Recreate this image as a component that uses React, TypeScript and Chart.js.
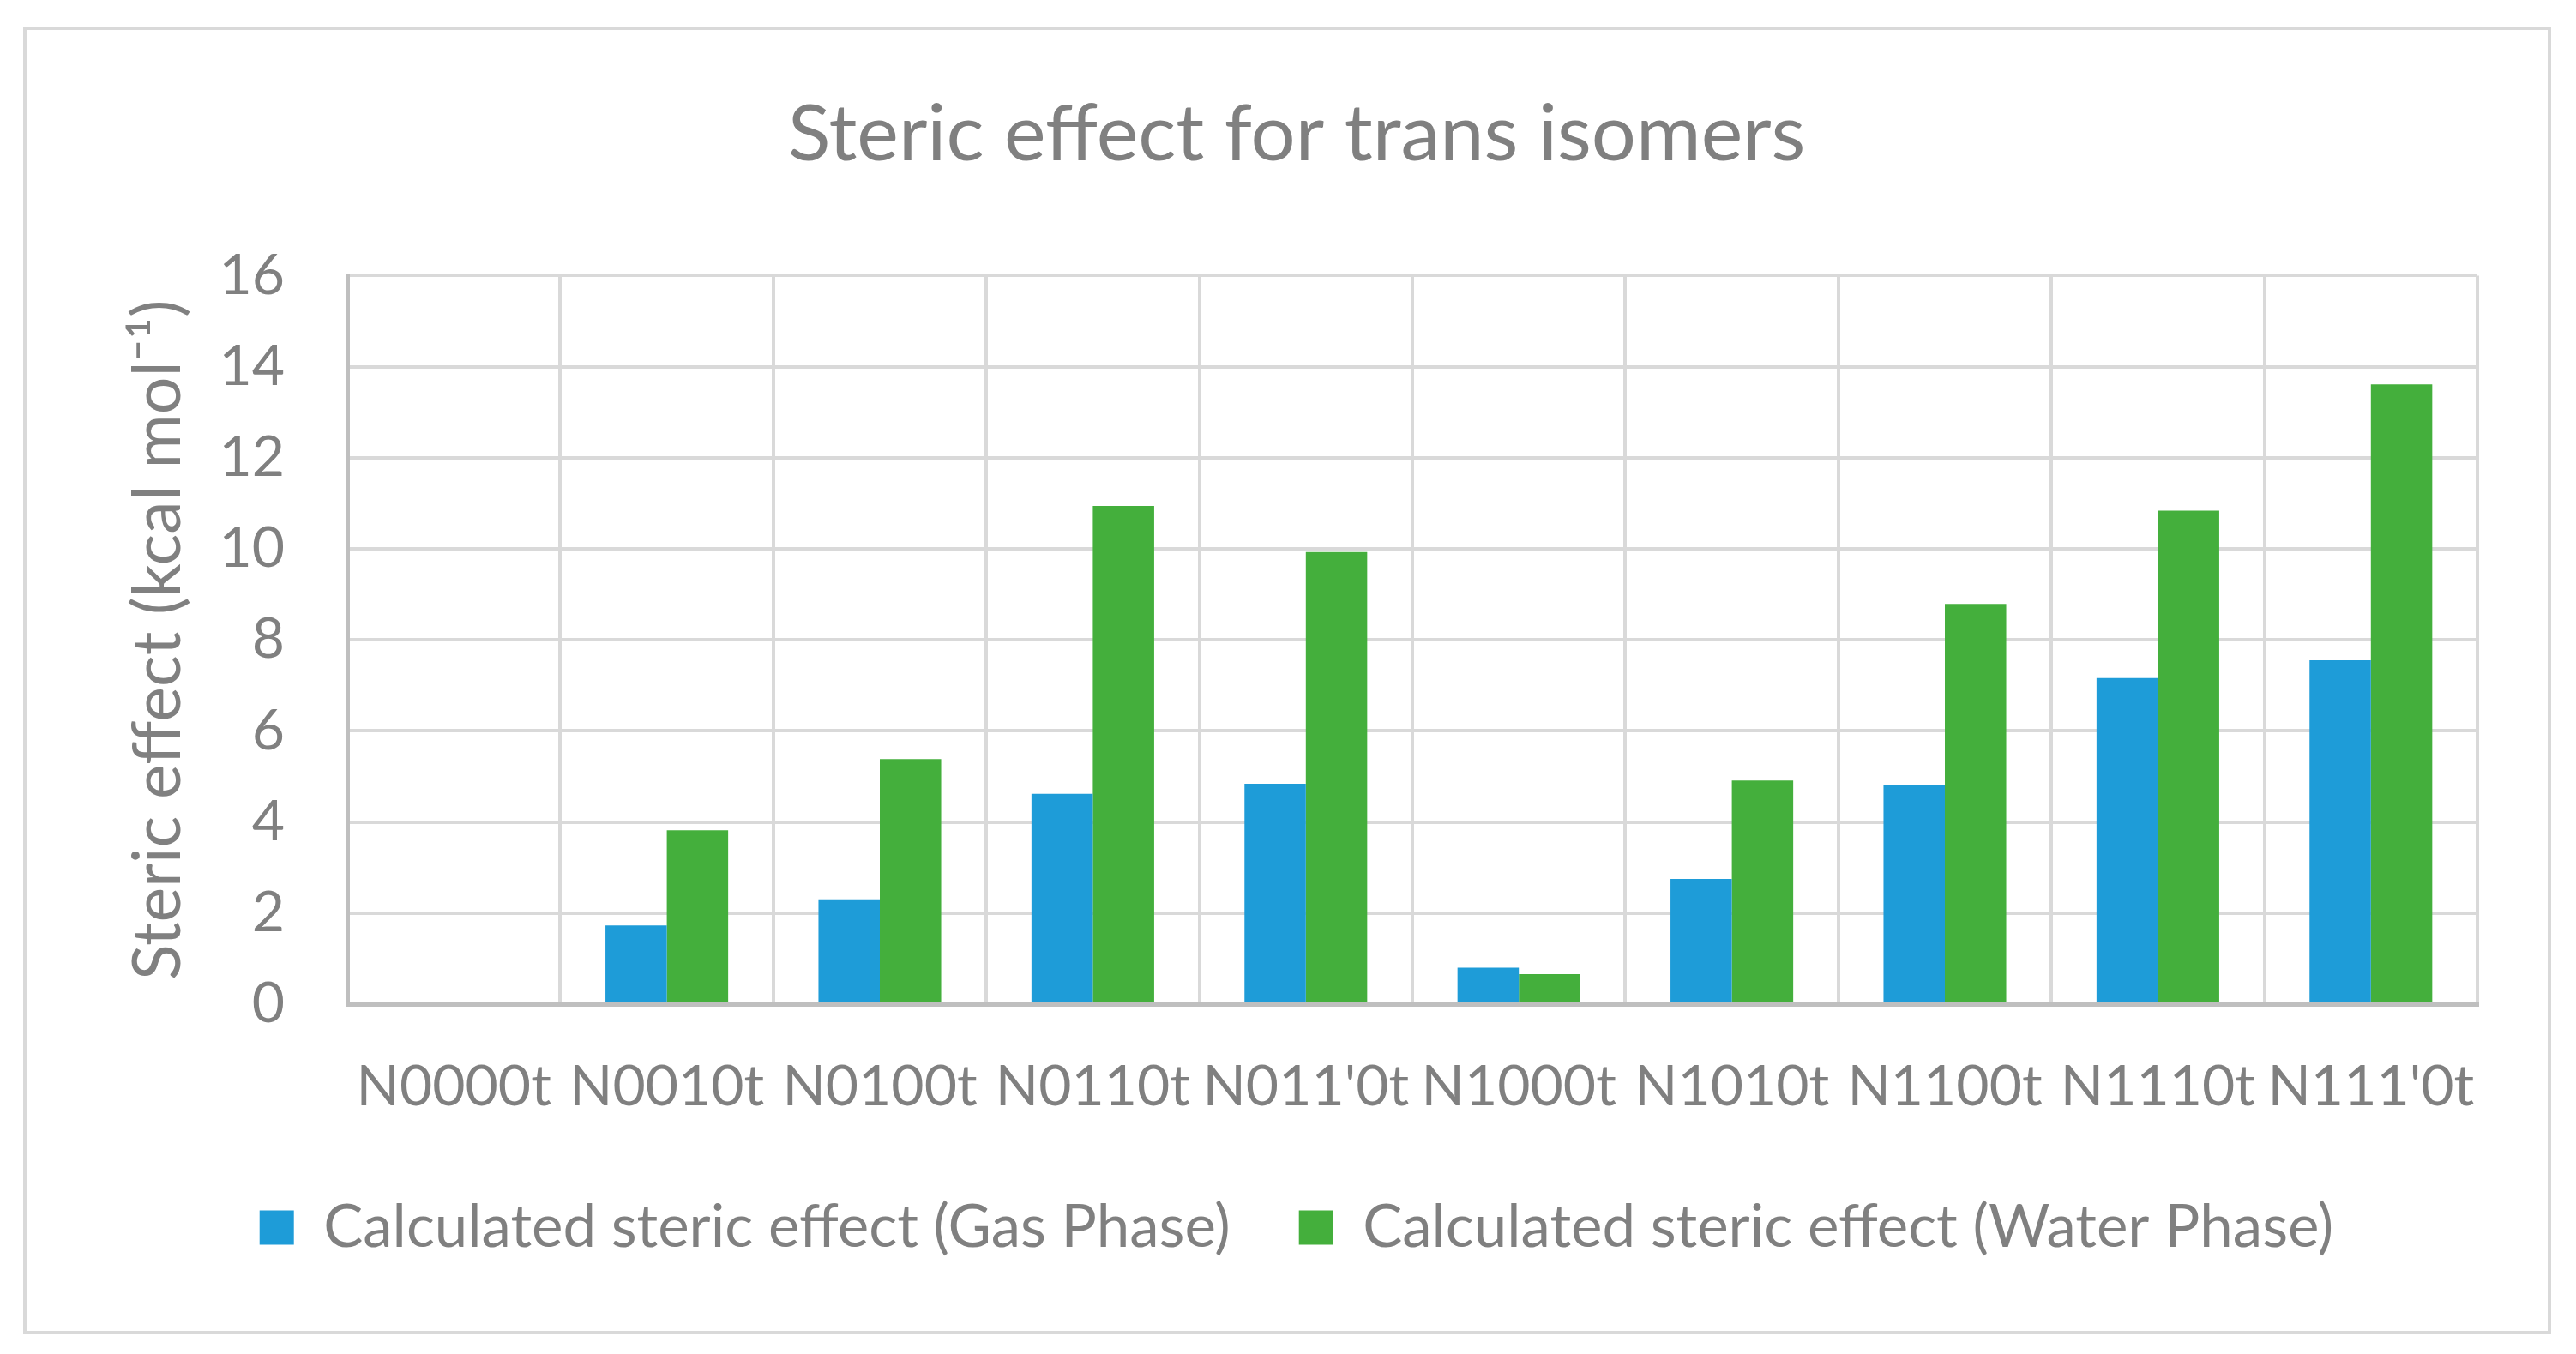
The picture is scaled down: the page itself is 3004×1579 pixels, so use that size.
import React, { useEffect, useRef } from "react";
import { Chart, registerables } from "chart.js";

Chart.register(...registerables);

const categories = ["N0000t", "N0010t", "N0100t", "N0110t", "N011'0t", "N1000t", "N1010t", "N1100t", "N1110t", "N111'0t"];
const gasPhase = [0, 1.73, 2.3, 4.62, 4.84, 0.8, 2.75, 4.82, 7.16, 7.55];
const waterPhase = [0, 3.82, 5.38, 10.94, 9.93, 0.66, 4.91, 8.79, 10.84, 13.61];
const seriesLabels = ["Calculated steric effect (Gas Phase)", "Calculated steric effect (Water Phase)"];
const yTickValues = [0, 2, 4, 6, 8, 10, 12, 14, 16];
const chartTitle = "Steric effect for trans isomers";
const yAxisTitle = "Steric effect (kcal mol\u207B\u00B9)";

const W = 3004;
const H = 1579;
const FONT = "Lato, 'Open Sans', sans-serif";
const GRAY = "#808080";

export default function App() {
  const ref = useRef<HTMLCanvasElement | null>(null);

  useEffect(() => {
    document.body.style.margin = "0";
    document.body.style.overflow = "hidden";
    const canvas = ref.current;
    if (!canvas) return;
    const chart = new Chart(canvas, {
      type: "bar",
      data: {
        labels: categories,
        datasets: [
          {
            label: seriesLabels[0],
            data: gasPhase,
            backgroundColor: "#1e9cd8",
            borderWidth: 0,
            categoryPercentage: 0.576,
            barPercentage: 1.0,
          },
          {
            label: seriesLabels[1],
            data: waterPhase,
            backgroundColor: "#44af3c",
            borderWidth: 0,
            categoryPercentage: 0.576,
            barPercentage: 1.0,
          },
        ],
      },
      options: {
        responsive: false,
        animation: false,
        devicePixelRatio: 1,
        layout: { padding: { left: 135, right: 115, top: 0, bottom: 103 } },
        plugins: {
          title: {
            display: true,
            text: chartTitle,
            color: GRAY,
            font: { family: FONT, size: 92, weight: "normal", lineHeight: 1.2 },
            padding: { top: 102, bottom: 109 },
          },
          legend: {
            display: true,
            position: "bottom",
            labels: {
              color: GRAY,
              font: { family: FONT, size: 69 },
              boxWidth: 40,
              boxHeight: 40,
              padding: 80,
            },
          },
          tooltip: { enabled: false },
        },
        scales: {
          x: {
            grid: { display: true, offset: true, color: "#d9d9d9", lineWidth: 4, drawTicks: false },
            border: { display: true, color: "#bfbfbf", width: 5 },
            ticks: {
              color: GRAY,
              font: { family: FONT, size: 66 },
              autoSkip: false,
              maxRotation: 0,
              minRotation: 0,
              padding: 57,
            },
            afterFit: (scale: any) => {
              scale.height = 146;
            },
          },
          y: {
            min: 0,
            max: 16,
            afterBuildTicks: (scale: any) => {
              scale.ticks = yTickValues.map((v) => ({ value: v }));
            },
            grid: { display: true, color: "#d9d9d9", lineWidth: 4, drawTicks: false },
            border: { display: true, color: "#bfbfbf", width: 5 },
            ticks: {
              color: GRAY,
              font: { family: FONT, size: 66 },
              padding: 73,
            },
            title: {
              display: true,
              text: yAxisTitle,
              color: GRAY,
              font: { family: FONT, size: 77, lineHeight: 1.0 },
              padding: { top: 12, bottom: 0 },
            },
            afterFit: (scale: any) => {
              scale.width = 270;
            },
          },
        },
      },
    });
    return () => chart.destroy();
  }, []);

  return (
    <div style={{ position: "absolute", left: 0, top: 0, width: W, height: H, background: "#ffffff" }}>
      <div
        style={{
          position: "absolute",
          left: 27,
          top: 31,
          width: 2975 - 27,
          height: 1556 - 31,
          border: "4px solid #d9d9d9",
          boxSizing: "border-box",
          pointerEvents: "none",
        }}
      />
      <canvas ref={ref} width={W} height={H} style={{ position: "absolute", left: 0, top: 0, width: W, height: H }} />
    </div>
  );
}
